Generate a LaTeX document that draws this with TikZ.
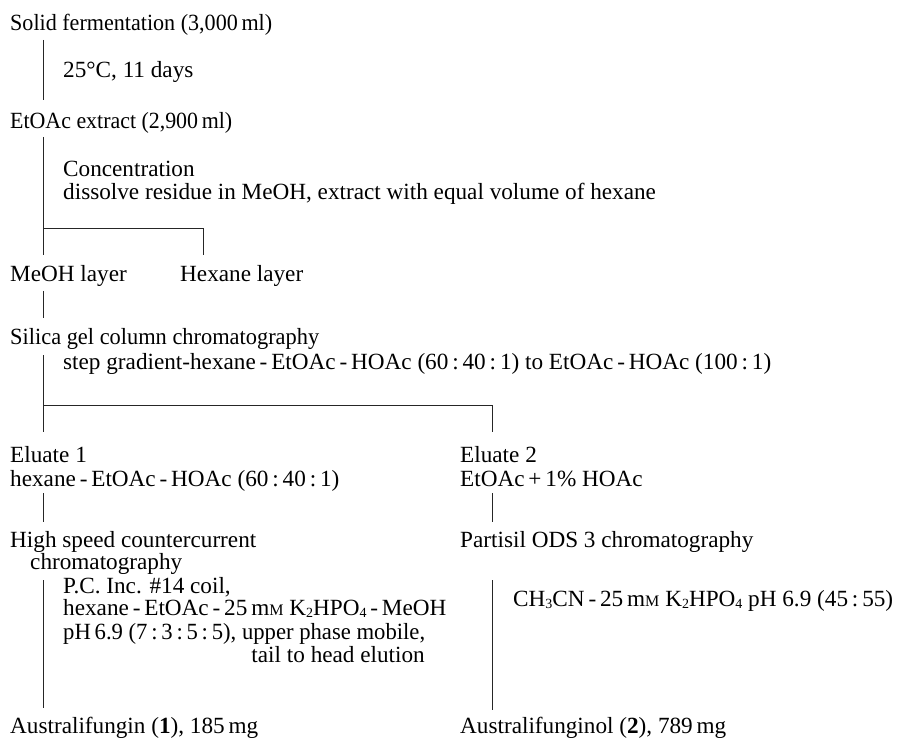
\documentclass[tikz,border=0pt]{standalone}
\usepackage{fontspec}
\setmainfont{Liberation Serif}
\usepackage{graphicx}
\newcommand\fitw[2]{\resizebox{#1pt}{\height}{#2}}
\newcommand\msub[1]{\raisebox{-0.1em}{\fontsize{14}{14}\selectfont #1}}
\newcommand\mmM{m{\fontsize{16}{16}\selectfont M}}
\begin{document}
\begin{tikzpicture}[x=1pt,y=-1pt,
  txt/.style={anchor=base west, inner sep=0pt, text height=16pt, text depth=5pt, font=\fontsize{23.2}{26}\selectfont},
  conn/.style={line width=0.9pt, draw=black!85}]
\useasboundingbox (0,0) rectangle (897,743);
\node[txt] (solid)  at (10,31)   {\fitw{262}{Solid fermentation (3,000\,ml)}};
\node[txt] (c1)     at (63,78)   {25°C, 11 days};
\node[txt] (etoac)  at (10,129)  {\fitw{222}{EtOAc extract (2,900\,ml)}};
\node[txt] (conc)   at (63,177)  {Concentration};
\node[txt] (diss)   at (63,200)  {dissolve residue in MeOH, extract with equal volume of hexane};
\node[txt] (meoh)   at (10,282)  {MeOH layer};
\node[txt] (hexl)   at (180,282) {Hexane layer};
\node[txt] (silica) at (10,345)  {\fitw{309}{Silica gel column chromatography}};
\node[txt] (step)   at (63,369)  {step gradient-hexane\,-\,EtOAc\,-\,HOAc (60\,:\,40\,:\,1) to EtOAc\,-\,HOAc (100\,:\,1)};
\node[txt] (el1)    at (10,462)  {Eluate 1};
\node[txt] (el1b)   at (10,486)  {hexane\,-\,EtOAc\,-\,HOAc (60\,:\,40\,:\,1)};
\node[txt] (el2)    at (460,462) {Eluate 2};
\node[txt] (el2b)   at (460,486) {EtOAc\,+\,1\% HOAc};
\node[txt] (hsc)    at (10,547)  {High speed countercurrent};
\node[txt] (hsc2)   at (30,569)  {chromatography};
\node[txt] (pc1)    at (63,593)  {P.C. Inc. \#14 coil,};
\node[txt] (pc2)    at (63,615)  {hexane\,-\,EtOAc\,-\,25\,\mmM\ K\msub{2}HPO\msub{4}\,-\,MeOH};
\node[txt] (pc3)    at (63,639)  {\fitw{362}{pH\,6.9 (7\,:\,3\,:\,5\,:\,5), upper phase mobile,}};
\node[txt, anchor=base east] (pc4) at (425,662) {tail to head elution};
\node[txt] (part)   at (460,547) {Partisil ODS 3 chromatography};
\node[txt] (ch)     at (513,606) {CH\msub{3}CN\,-\,25\,\mmM\ K\msub{2}HPO\msub{4} pH 6.9 (45\,:\,55)};
\node[txt] (aus1)   at (10,733)  {Australifungin (\textbf{1}), 185\,mg};
\node[txt] (aus2)   at (460,733) {Australifunginol (\textbf{2}), 789\,mg};
% connectors
\draw[conn] ([shift={(33,9)}]solid.base west) -- ([shift={(33,-29)}]etoac.base west);
\draw[conn] ([shift={(33,8)}]etoac.base west) -- ([shift={(33,-27)}]meoh.base west);
\draw[conn] ([shift={(33,-54)}]meoh.base west) -| ([shift={(23,-27)}]hexl.base west);
\draw[conn] ([shift={(33,9)}]meoh.base west) -- ([shift={(33,-27)}]silica.base west);
\draw[conn] ([shift={(33,10)}]silica.base west) -- ([shift={(33,-30)}]el1.base west);
\draw[conn] ([shift={(33,-57)}]el1.base west) -| ([shift={(32,-30)}]el2.base west);
\draw[conn] ([shift={(33,7)}]el1b.base west) -- ([shift={(33,-25)}]hsc.base west);
\draw[conn] ([shift={(32,7)}]el2b.base west) -- ([shift={(32,-25)}]part.base west);
\draw[conn] ([shift={(13,11)}]hsc2.base west) -- ([shift={(33,-25)}]aus1.base west);
\draw[conn] ([shift={(32,33)}]part.base west) -- ([shift={(32,-23)}]aus2.base west);
\end{tikzpicture}
\end{document}
